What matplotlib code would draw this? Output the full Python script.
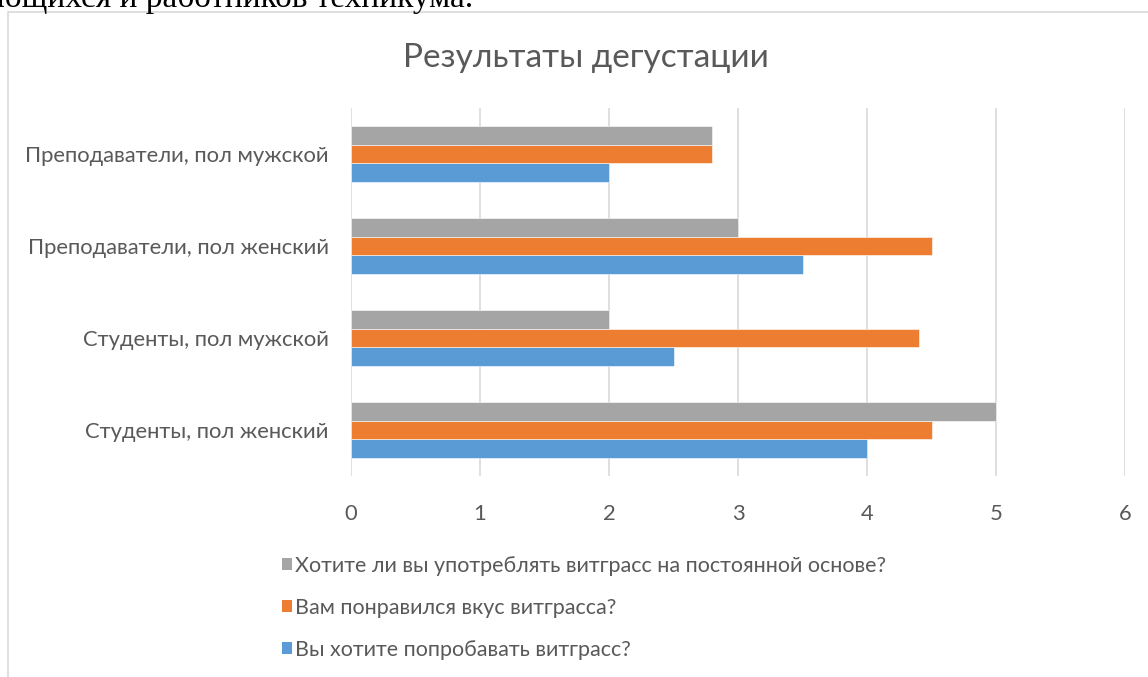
import matplotlib
matplotlib.use("Agg")
import matplotlib.pyplot as plt
from matplotlib.patches import Rectangle, Patch
import numpy as np

categories = ["Студенты, пол женский", "Студенты, пол мужской",
              "Преподаватели, пол женский", "Преподаватели, пол мужской"]
series_names = ["Вы хотите попробавать витграсс?",
                "Вам понравился вкус витграсса?",
                "Хотите ли вы употреблять витграсс на постоянной основе?"]
try_values = [4.0, 2.5, 3.5, 2.0]
taste_values = [4.5, 4.4, 4.5, 2.8]
regular_values = [5.0, 2.0, 3.0, 2.8]
colors = ["#5B9BD5", "#ED7D31", "#A5A5A5"]
xticks = [0, 1, 2, 3, 4, 5, 6]

W, H = 1148, 677
fig = plt.figure(figsize=(W / 100, H / 100), dpi=100)
plt.rcParams['font.family'] = ['Lato', 'DejaVu Sans']

# chart frame
fig.patches.append(Rectangle((8 / W, -0.1), 1.2, 1 - 11.5 / H + 0.1, transform=fig.transFigure,
                             fill=False, edgecolor="#d9d9d9", lw=1.2))
# cut-off document text above the chart
fig.text(473 / W, 1 - 7 / H, "обучающихся и работников техникума.", ha="right", va="baseline",
         family=["Liberation Serif"], fontsize=24, color="black")

ax = fig.add_axes([351 / W, 1 - 476 / H, (1125 - 351) / W, (476 - 108) / H])
y = np.arange(len(categories))
h = 0.2
for vals, off, c, name in zip([try_values, taste_values, regular_values], [-h, 0, h], colors, series_names):
    ax.barh(y + off, vals, height=h, color=c, edgecolor="white", linewidth=0.4, label=name, zorder=3)

ax.set_xlim(0, 6)
ax.set_ylim(-0.5, len(categories) - 0.5)
ax.set_xticks(xticks)
ax.set_xticklabels([str(t) for t in xticks])
ax.set_yticks(y)
ax.set_yticklabels(categories)
ax.grid(axis="x", color="#d9d9d9", lw=1.2, zorder=0)
for s in ax.spines.values():
    s.set_visible(False)
ax.tick_params(axis="both", length=0, colors="#595959", labelsize=15.8)
ax.tick_params(axis="x", pad=20)
ax.tick_params(axis="y", pad=16)

fig.text(586 / W, 1 - 58 / H, "Результаты дегустации", ha="center", va="center",
         fontsize=24, color="#595959")

handles = [Patch(facecolor=c) for c in colors][::-1]
leg = fig.legend(handles, series_names[::-1], loc="upper left",
                 bbox_to_anchor=(273 / W, 1 - 547 / H), frameon=False,
                 fontsize=15.5, labelspacing=1.02, handlelength=0.5, handleheight=0.5,
                 handletextpad=0.12, borderaxespad=0)
for t in leg.get_texts():
    t.set_color("#595959")

fig.savefig("out.png", dpi=100)
